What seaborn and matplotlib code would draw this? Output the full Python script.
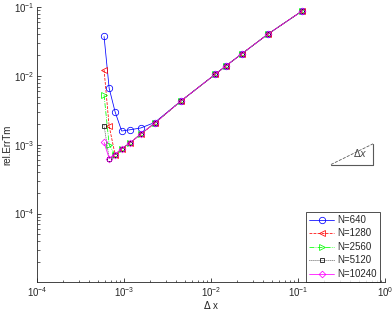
import numpy as np
import pandas as pd
import matplotlib
matplotlib.use("Agg")
import matplotlib.pyplot as plt
import seaborn as sns

# grid spacings (shared by all runs)
dx = [5.9e-4, 6.75e-4, 7.9e-4, 9.4e-4, 1.18e-3, 1.56e-3, 2.25e-3,
      4.5e-3, 1.125e-2, 1.5e-2, 2.25e-2, 4.5e-2, 1.125e-1]

err_640 = [0.0373, 0.0066, 0.0030, 0.00158, 0.00165, 0.00175, 0.0021,
           0.0043, 0.0106, 0.0141, 0.0208, 0.0403, 0.0883]
err_1280 = [0.0122, 0.00185, 7.2e-4, 8.75e-4, 1.07e-3, 1.43e-3, 2.05e-3,
            0.0043, 0.0106, 0.0141, 0.0208, 0.0403, 0.0883]
err_2560 = [0.00525, 0.00100, 7.1e-4, 8.75e-4, 1.07e-3, 1.43e-3, 2.05e-3,
            0.0043, 0.0106, 0.0141, 0.0208, 0.0403, 0.0883]
err_5120 = [0.0019, 6.3e-4, 7.2e-4, 8.75e-4, 1.07e-3, 1.43e-3, 2.05e-3,
            0.0043, 0.0106, 0.0141, 0.0208, 0.0403, 0.0883]
err_10240 = [0.00108, 6.3e-4, 7.2e-4, 8.75e-4, 1.07e-3, 1.43e-3, 2.05e-3,
             0.0043, 0.0106, 0.0141, 0.0208, 0.0403, 0.0883]

labels = ["N=640", "N=1280", "N=2560", "N=5120", "N=10240"]
errors = [err_640, err_1280, err_2560, err_5120, err_10240]
colors = ["#0000ff", "#ff0000", "#00ff00", "#000000", "#ff00ff"]
markers = ["o", "<", ">", "s", "D"]
styles = ["-", "--", "-.", ":", "-"]
msizes = [4.6, 4.6, 4.6, 3.4, 3.4]

y_major = [1e-4, 1e-3, 1e-2, 1e-1]

# slope-1 reference triangle corners
tri_x = [0.239, 0.729]
tri_y = [5.15e-4, 1.03e-3]

sns.set_style("ticks")
plt.rcParams['font.family'] = ['Liberation Sans', 'DejaVu Sans']
plt.rcParams['xtick.direction'] = 'in'
plt.rcParams['ytick.direction'] = 'in'

fig = plt.figure(figsize=(3.92, 3.11), dpi=100)
ax = fig.add_axes([0.0944, 0.092, 0.8878, 0.8855])

for lab, err, c, m, ls, ms in zip(labels, errors, colors, markers, styles, msizes):
    df = pd.DataFrame({"dx": dx, "err": err})
    sns.lineplot(data=df, x="dx", y="err", ax=ax, color=c, marker=m,
                 linestyle=ls, linewidth=0.55, markersize=ms,
                 markerfacecolor="none", markeredgecolor=c,
                 markeredgewidth=0.55, label=lab)

# slope triangle
ax.plot(tri_x, [tri_y[0], tri_y[1]], color="0.35", linestyle="--", linewidth=0.6)
ax.plot([tri_x[0], tri_x[1], tri_x[1]], [tri_y[0], tri_y[0], tri_y[1]],
        color="0.35", linewidth=0.8)
ax.text(0.52, 7.6e-4, r"$\Delta x$", fontsize=7, color="0.3",
        family="DejaVu Serif", ha="center", va="center")

ax.set_xscale("log")
ax.set_yscale("log")
ax.set_xlim(1e-4, 1)
ax.set_ylim(1e-5, 1e-1)
ax.set_yticks(y_major)
ax.set_xlabel(r"$\Delta$ x", fontsize=7, labelpad=0)
ax.set_ylabel("rel.ErrTm", fontsize=7, labelpad=1)
ax.tick_params(which="major", labelsize=7, length=3, width=0.6, pad=2)
ax.tick_params(which="minor", length=1.8, width=0.5)
for s in ["top", "right"]:
    ax.spines[s].set_visible(False)
for s in ["left", "bottom"]:
    ax.spines[s].set_linewidth(0.6)

leg = ax.legend(loc="lower right", bbox_to_anchor=(0.9856, 0.0),
                borderaxespad=0, fontsize=7, frameon=True, fancybox=False,
                handlelength=2.6, handletextpad=0.3, labelspacing=0.36,
                borderpad=0.35)
leg.get_frame().set_edgecolor("black")
leg.get_frame().set_linewidth(0.6)

fig.savefig("out.png", dpi=100)
